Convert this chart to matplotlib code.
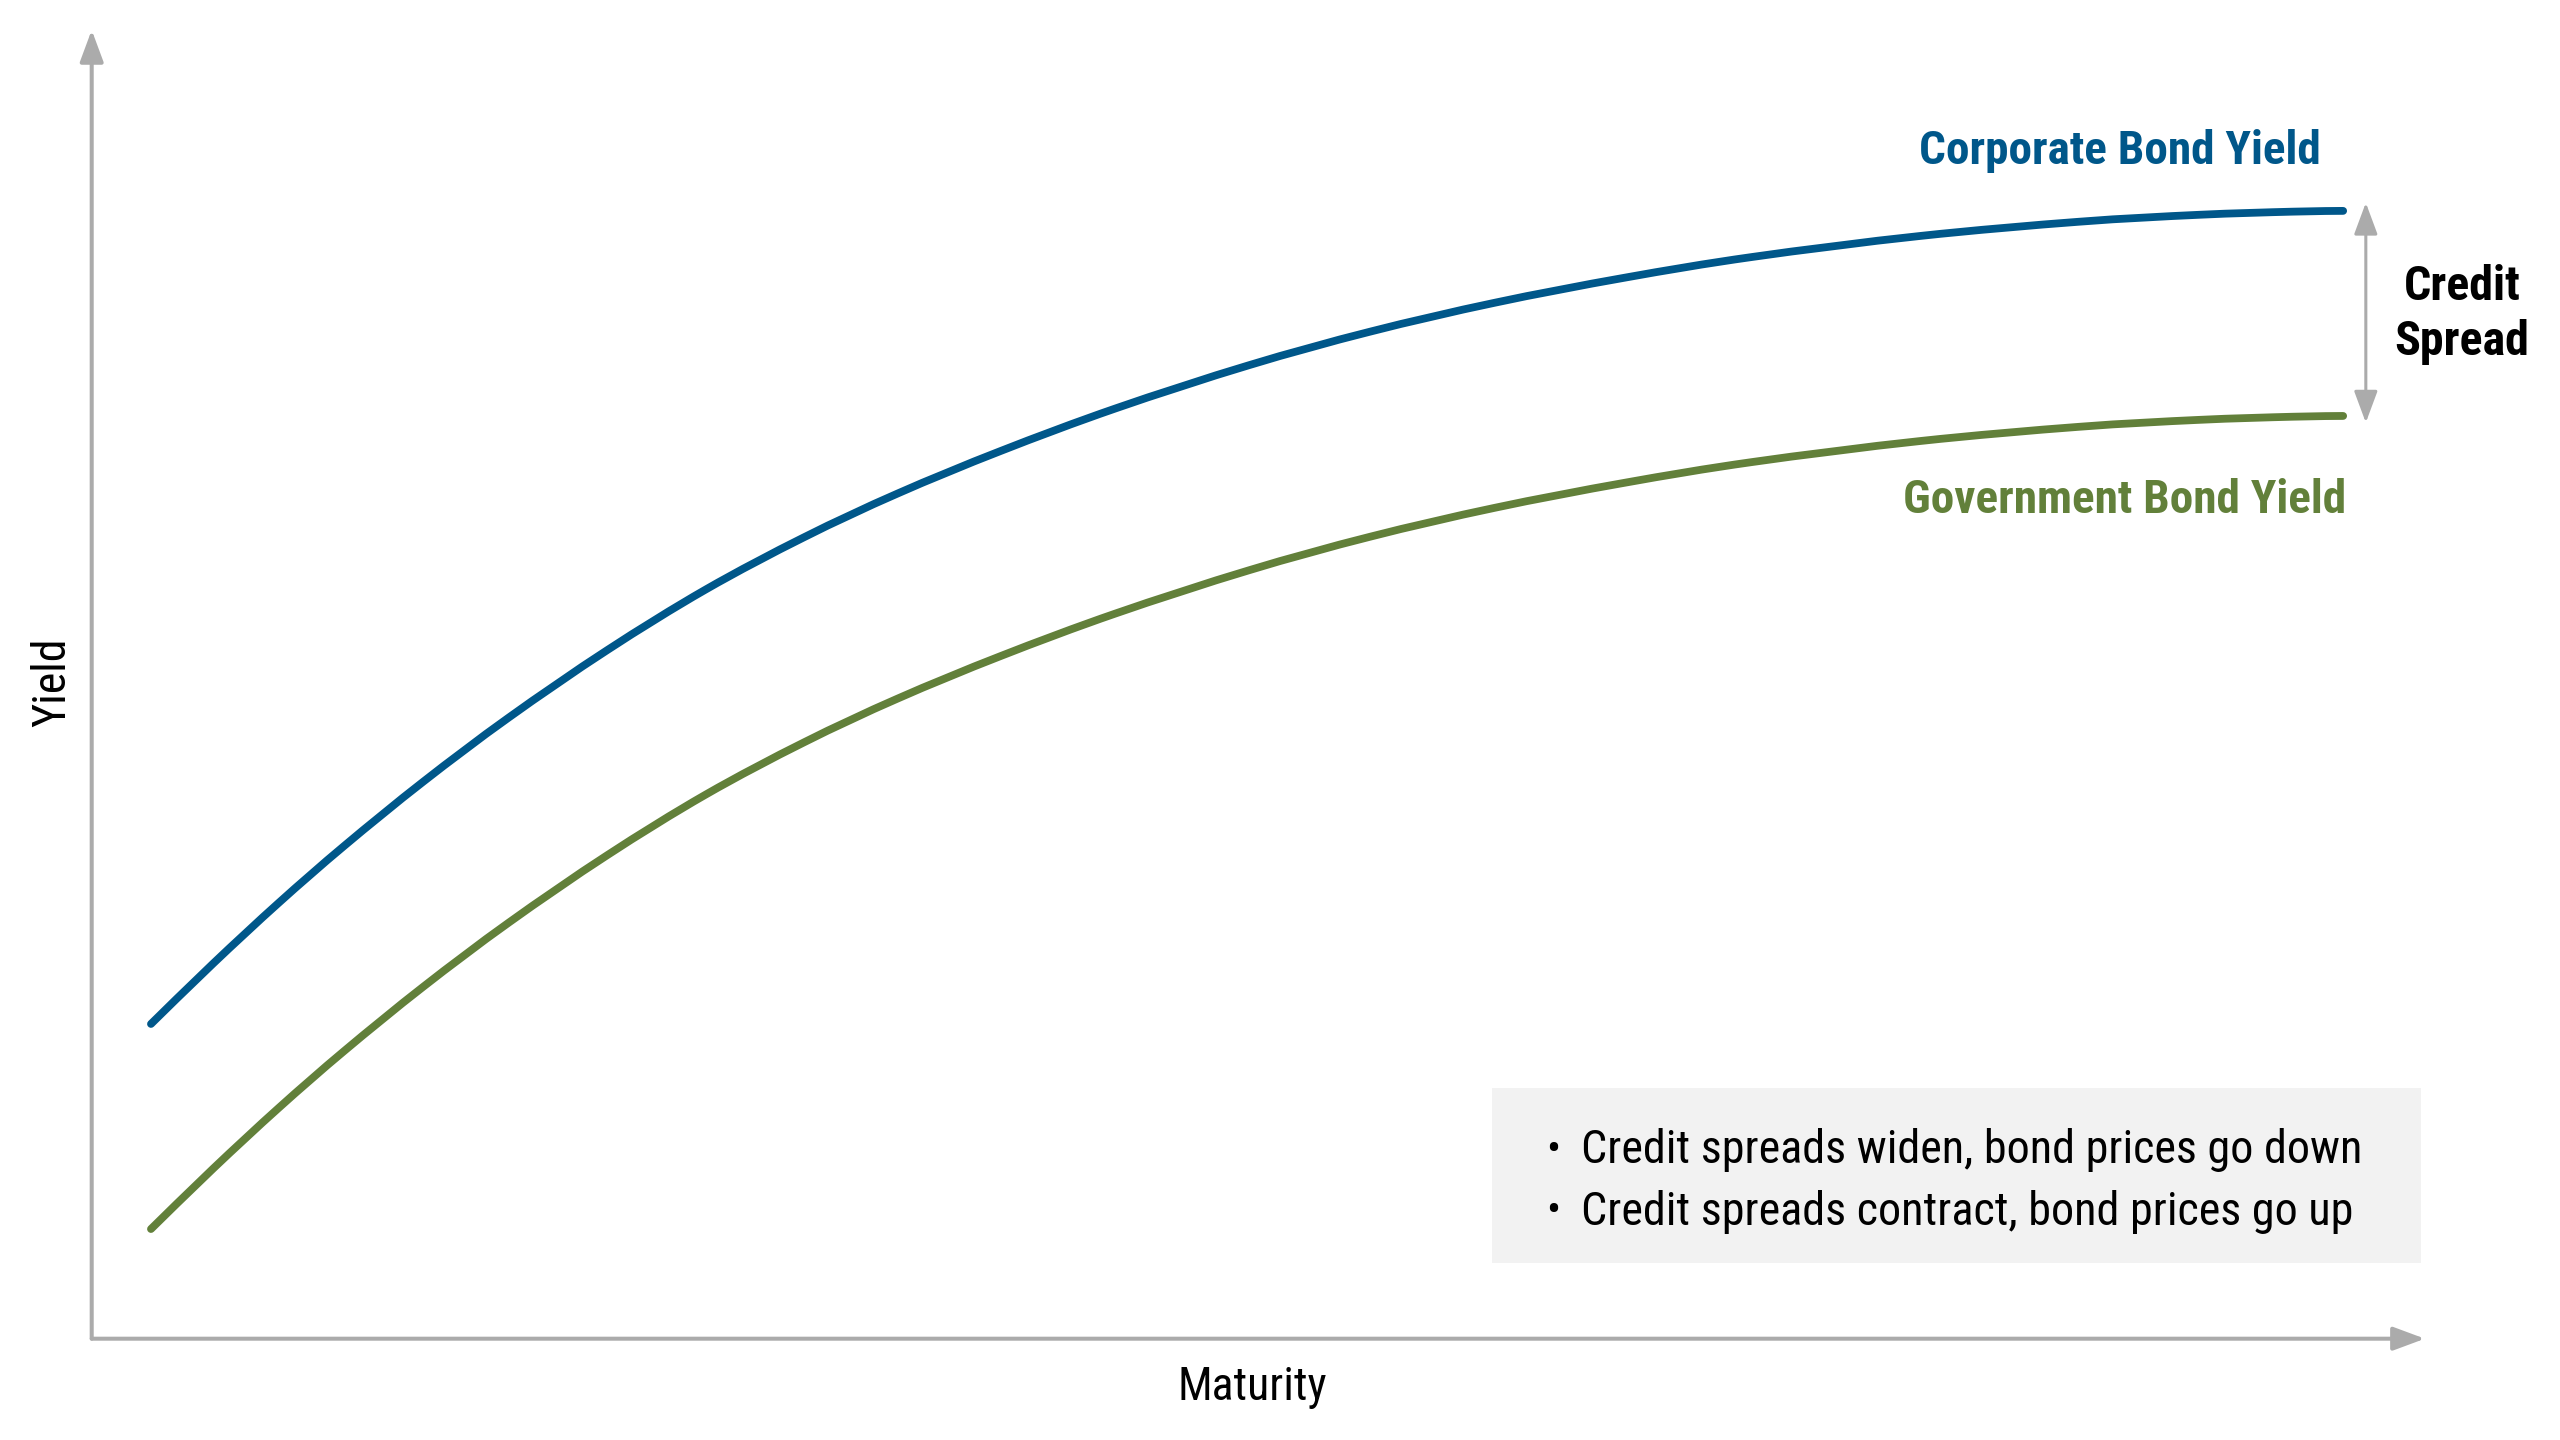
import matplotlib
matplotlib.use("Agg")
import matplotlib.pyplot as plt
from matplotlib.patches import Rectangle, PathPatch
from matplotlib.path import Path
from matplotlib import font_manager

# maturity (years) and yields
maturity = [0.813, 1.668, 2.568, 3.468, 4.549, 5.719, 7.069, 8.419, 9.770, 11.052, 12.470,
            14.045, 15.868, 17.533, 19.243, 21.021, 22.777, 25.072, 27.255, 28.898, 30.181, 30.879]
corporate = [2.405, 2.868, 3.332, 3.768, 4.257, 4.746, 5.261, 5.724, 6.124, 6.458, 6.784,
             7.109, 7.438, 7.695, 7.916, 8.107, 8.266, 8.426, 8.535, 8.588, 8.612, 8.618]
government = [0.838, 1.301, 1.765, 2.201, 2.690, 3.179, 3.694, 4.157, 4.557, 4.891, 5.217,
              5.542, 5.871, 6.128, 6.349, 6.540, 6.699, 6.859, 6.968, 7.021, 7.045, 7.051]

corp_label = "Corporate Bond Yield"
gov_label = "Government Bond Yield"
spread_label = "Credit\nSpread"
notes = ["Credit spreads widen, bond prices go down",
         "Credit spreads contract, bond prices go up"]

blue = "#00578A"
green = "#62803A"
grey = "#ABABAB"

names = {f.name for f in font_manager.fontManager.ttflist}
fams = [f for f in ["Roboto Condensed", "Liberation Sans Narrow", "Roboto"] if f in names] + ["DejaVu Sans"]
plt.rcParams['font.family'] = fams


def smooth_line(ax, xs, ys, color):
    # spline-style curve through the points (catmull-rom as cubic beziers)
    pts = list(zip(xs, ys))
    verts = [pts[0]]
    codes = [Path.MOVETO]
    for i in range(len(pts) - 1):
        p0 = pts[max(i - 1, 0)]
        p1 = pts[i]
        p2 = pts[i + 1]
        p3 = pts[min(i + 2, len(pts) - 1)]
        c1 = (p1[0] + (p2[0] - p0[0]) / 6, p1[1] + (p2[1] - p0[1]) / 6)
        c2 = (p2[0] - (p3[0] - p1[0]) / 6, p2[1] - (p3[1] - p1[1]) / 6)
        verts += [c1, c2, p2]
        codes += [Path.CURVE4] * 3
    patch = PathPatch(Path(verts, codes), facecolor='none', edgecolor=color, lw=2.8,
                      capstyle='round', joinstyle='round', clip_on=False)
    ax.add_patch(patch)


fig = plt.figure(figsize=(12.8, 7.2), dpi=200)
ax = fig.add_axes([0.03582, 0.07035, 0.9114, 0.9088])
ax.set_xlim(0, 32)
ax.set_ylim(0, 10)
ax.axis('off')

# axes arrows
head = '-|>,head_length=0.97,head_width=0.36'
ax.annotate("", xy=(1, 0), xytext=(0, 0), xycoords='axes fraction',
            arrowprops=dict(arrowstyle=head, color=grey, lw=1.45, shrinkA=0, shrinkB=0))
ax.annotate("", xy=(0, 1), xytext=(0, 0), xycoords='axes fraction',
            arrowprops=dict(arrowstyle=head, color=grey, lw=1.45, shrinkA=0, shrinkB=0))

smooth_line(ax, maturity, corporate, blue)
smooth_line(ax, maturity, government, green)

ax.text(27.82, 9.075, corp_label, color=blue, fontsize=17, fontweight='bold', ha='center', va='center')
ax.text(30.92, 6.405, gov_label, color=green, fontsize=17, fontweight='bold', ha='right', va='center')

# credit spread arrow
ax.annotate("", xy=(31.19, 8.68), xytext=(31.19, 7.0),
            arrowprops=dict(arrowstyle='<|-|>,head_length=0.97,head_width=0.36', color=grey, lw=1.1,
                            shrinkA=0, shrinkB=0), annotation_clip=False)
ax.text(32.51, 7.83, spread_label, color='black', fontsize=17.3, fontweight='bold',
        ha='center', va='center', linespacing=1.25, clip_on=False)

# notes box
ax.add_patch(Rectangle((19.21, 0.576), 12.74, 1.342, facecolor='#F2F2F2', edgecolor='none', clip_on=False))
for i, line in enumerate(notes):
    yy = 1.44 - i * 0.471
    ax.text(20.04, yy, "\u2022", fontsize=15, ha='center', va='center')
    ax.text(20.43, yy, line, fontsize=16.6, ha='left', va='center')

fig.text(0.4891, 0.037, "Maturity", fontsize=16.5, ha='center', va='center')
fig.text(0.0205, 0.526, "Yield", fontsize=16.5, ha='center', va='center', rotation=90)

fig.savefig("out.png", dpi=200)
